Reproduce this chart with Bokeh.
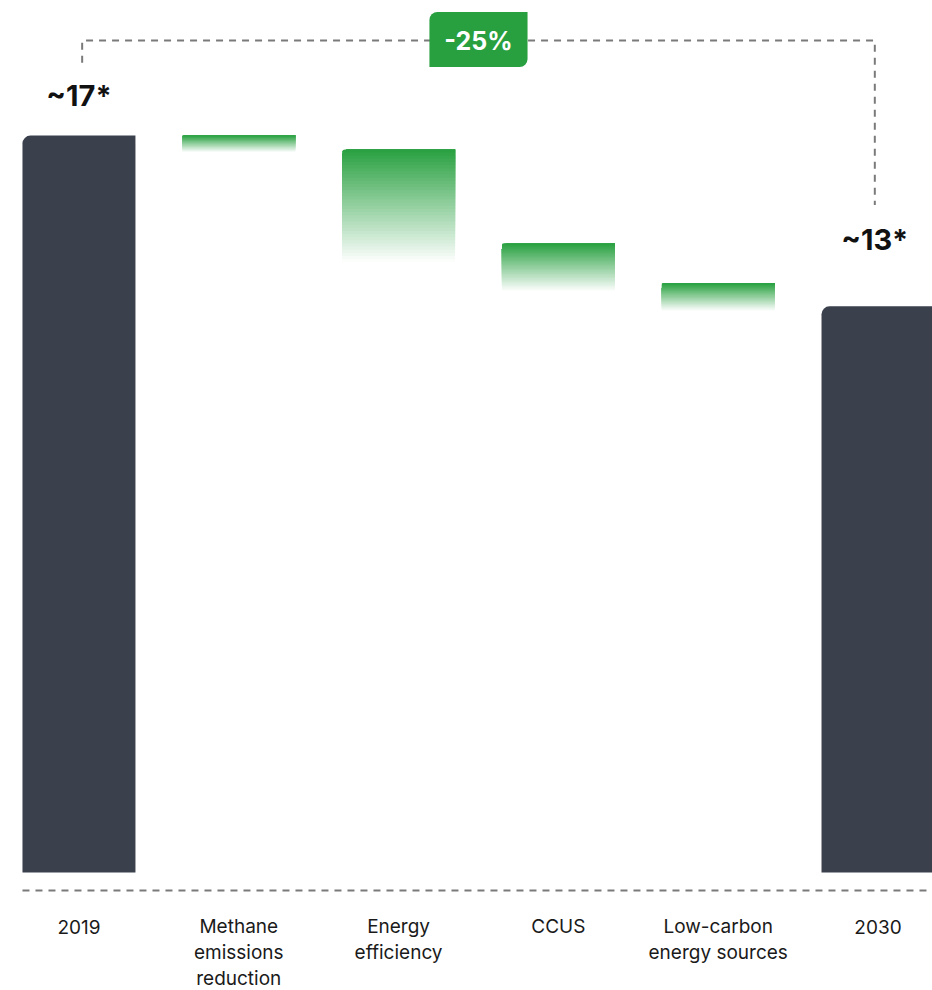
from bokeh.plotting import figure
from bokeh.models import Range1d
from bokeh.embed import file_html
from bokeh.resources import INLINE
from bokeh.core.properties import value

# ---------------- data ----------------
categories = ["2019", "Methane\nemissions\nreduction", "Energy\nefficiency", "CCUS",
              "Low-carbon\nenergy sources", "2030"]
start_value = 17.0
reductions = [0.32, 2.17, 0.92, 0.53]
end_value = 13.06
start_label = "~17*"
end_label = "~13*"
change_label = "-25%"

# ---------------- style ----------------
DARK = "#3b404d"
GREEN = (40, 160, 64)
GREEN_HEX = "#28a040"
DASH_COLOR = "#7a7a7a"
FONT = value("Inter")
BAR_W = 0.707
FADE = 1.2
N_STEPS = 36
LABEL_Y = -1.25
LINE_STEP = 0.60

p = figure(width=932, height=990,
           x_range=Range1d(-0.491, 5.341), y_range=Range1d(-2.722, 20.115),
           output_backend="svg", toolbar_location=None, min_border=0,
           x_axis_location=None, y_axis_location=None)
p.grid.visible = False
p.outline_line_color = None
p.background_fill_color = "white"

n = len(categories)
xs = list(range(n))

# totals (dark bars)
p.vbar(x=[xs[0], xs[-1]], top=[start_value, end_value], bottom=0, width=BAR_W,
       fill_color=DARK, line_color=None, border_radius=(8, 0, 0, 0))

# reduction bars with gradient fade
L, R, T, B, C = [], [], [], [], []
level = start_value
for i, d in enumerate(reductions):
    xc = xs[i + 1]
    top = level
    fade_len = d * FADE
    for k in range(N_STEPS - 1, -1, -1):
        t = (k + 0.5) / N_STEPS
        col = tuple(int(round(g * (1 - t) + 255 * t)) for g in GREEN)
        L.append(xc - BAR_W / 2)
        R.append(xc + BAR_W / 2)
        T.append(top)
        B.append(top - fade_len * (k + 1) / N_STEPS)
        C.append("#%02x%02x%02x" % col)
    level -= d
p.quad(left=L, right=R, top=T, bottom=B, fill_color=C, line_color=None,
       border_radius=(6, 0, 0, 0))

# baseline dashed
p.segment(x0=[xs[0] - BAR_W / 2], y0=[-0.415], x1=[xs[-1] + BAR_W / 2], y1=[-0.415],
          line_color=DASH_COLOR, line_width=2, line_dash="7 6")

# bracket
br_y = start_value + 2.19
p.line(x=[xs[0] + 0.02, xs[0] + 0.02, xs[-1] - 0.02, xs[-1] - 0.02],
       y=[start_value + 1.68, br_y, br_y, end_value + 2.34],
       line_color=DASH_COLOR, line_width=2, line_dash="7 6")

# change box
mid = (xs[0] + xs[-1]) / 2
p.quad(left=[mid - 0.307], right=[mid + 0.307], top=[br_y + 0.66], bottom=[br_y - 0.61],
       fill_color=GREEN_HEX, line_color=None, border_radius=(8, 0, 8, 0))
p.text(x=[mid], y=[br_y], text=[change_label], text_font=FONT, text_font_style="bold",
       text_font_size="25px", text_color="white", text_align="center",
       text_baseline="middle")

# value labels
p.text(x=[xs[0]], y=[start_value], text=[start_label], y_offset=-40, text_font=FONT,
       text_font_style="bold", text_font_size="29px", text_color="#111111",
       text_align="center", text_baseline="middle")
p.text(x=[xs[-1] - 0.02], y=[end_value], text=[end_label], y_offset=-67, text_font=FONT,
       text_font_style="bold", text_font_size="29px", text_color="#111111",
       text_align="center", text_baseline="middle")

# category labels, one text per line
lx, ly, lt = [], [], []
for i, cat in enumerate(categories):
    for j, line in enumerate(cat.split("\n")):
        lx.append(xs[i])
        ly.append(LABEL_Y - j * LINE_STEP)
        lt.append(line)
p.text(x=lx, y=ly, text=lt, text_font=FONT, text_font_size="19px",
       text_color="#1a1a1a", text_align="center", text_baseline="middle")

open("out.html", "w").write(file_html(p, INLINE))
